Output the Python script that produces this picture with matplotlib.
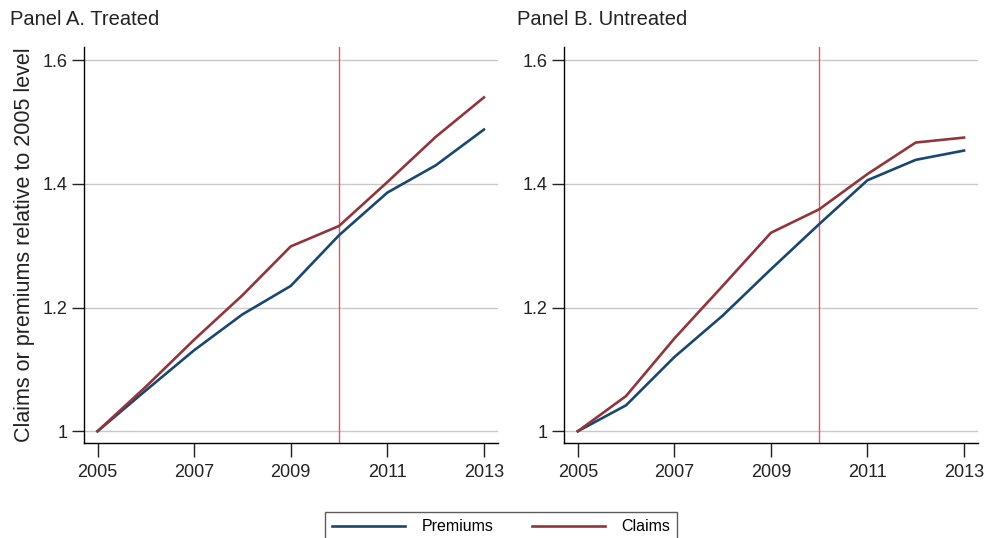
import matplotlib
matplotlib.use("Agg")
import matplotlib.pyplot as plt

plt.rcParams['font.family'] = ['Liberation Sans', 'DejaVu Sans']

years = [2005, 2006, 2007, 2008, 2009, 2010, 2011, 2012, 2013]

# Panel A: treated
prem_treated = [1.000, 1.066, 1.131, 1.189, 1.235, 1.317, 1.386, 1.430, 1.488]
claims_treated = [1.000, 1.072, 1.148, 1.220, 1.299, 1.332, 1.403, 1.476, 1.540]

# Panel B: untreated
prem_untreated = [1.000, 1.042, 1.120, 1.187, 1.262, 1.335, 1.406, 1.439, 1.454]
claims_untreated = [1.000, 1.057, 1.150, 1.235, 1.321, 1.359, 1.416, 1.467, 1.475]

titles = ["Panel A. Treated", "Panel B. Untreated"]
xticks = [2005, 2007, 2009, 2011, 2013]
yticks = [1.0, 1.2, 1.4, 1.6]
ytick_labels = ["1", "1.2", "1.4", "1.6"]
event_year = 2010

navy = "#1a476f"
maroon = "#90353b"

fig = plt.figure(figsize=(9.86, 5.38), dpi=100)
axA = fig.add_axes([0.0852, 0.1766, 0.4198, 0.736])
axB = fig.add_axes([0.5723, 0.1766, 0.4196, 0.736])

panels = [(axA, prem_treated, claims_treated), (axB, prem_untreated, claims_untreated)]
for i, (ax, prem, claims) in enumerate(panels):
    for y in yticks:
        ax.axhline(y, color="#c8c8c8", lw=1.0, zorder=0)
    ax.axvline(event_year, color="#e9575d", lw=1.0, zorder=1)
    lp, = ax.plot(years, prem, color=navy, lw=1.9, label="Premiums", zorder=3)
    lc, = ax.plot(years, claims, color=maroon, lw=1.9, label="Claims", zorder=3)
    ax.set_xlim(2004.72, 2013.29)
    ax.set_ylim(0.981, 1.6215)
    ax.set_xticks(xticks)
    ax.set_yticks(yticks)
    ax.set_yticklabels(ytick_labels)
    ax.spines['top'].set_visible(False)
    ax.spines['right'].set_visible(False)
    ax.spines['left'].set_linewidth(1.0)
    ax.spines['bottom'].set_linewidth(1.0)
    ax.tick_params(axis='x', length=10, width=1.0, labelsize=13, pad=5, colors="#222222")
    ax.tick_params(axis='y', length=9, width=1.0, labelsize=13, pad=3, colors="#222222")

fig.text(0.010, 0.963, titles[0], fontsize=14.5, color="#222222", va="center", ha="left")
fig.text(0.524, 0.963, titles[1], fontsize=14.5, color="#222222", va="center", ha="left")
axA.set_ylabel("Claims or premiums relative to 2005 level", fontsize=15.5, color="#222222", labelpad=5)

leg = fig.legend([lp, lc], ["Premiums", "Claims"], loc="lower center",
                 bbox_to_anchor=(0.508, -0.021), ncol=2, fontsize=11.5,
                 frameon=True, fancybox=False, edgecolor="#333333",
                 handlelength=4.6, columnspacing=2.4, handletextpad=1.0,
                 borderpad=0.45)
leg.get_frame().set_linewidth(1.0)

fig.savefig("out.png", dpi=100)
